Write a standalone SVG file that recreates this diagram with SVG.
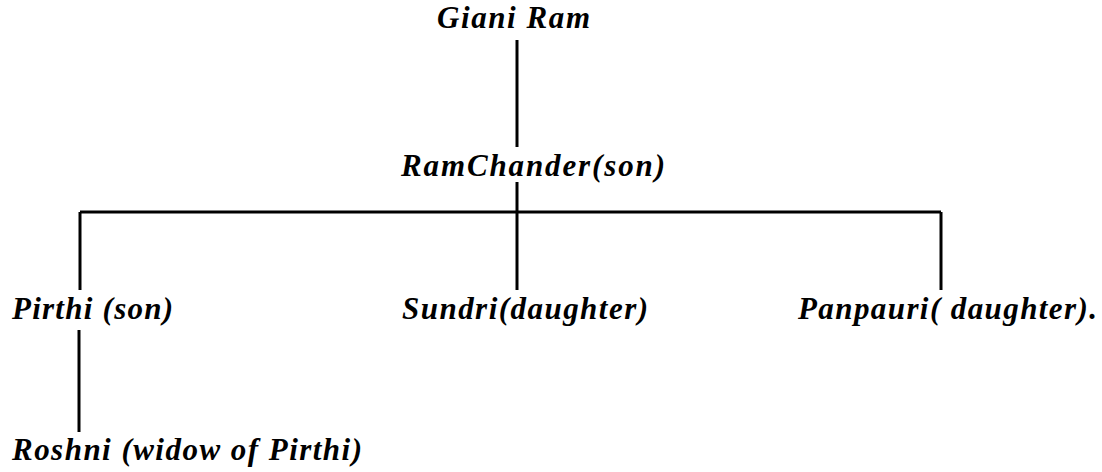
<svg xmlns="http://www.w3.org/2000/svg" width="1102" height="472" viewBox="0 0 1102 472">
<style>
.t{font-family:"Liberation Serif","Times New Roman",serif;font-weight:bold;font-style:italic;font-size:31px;fill:#000}
.c line{stroke:#000;stroke-width:3}
</style>
<rect width="1102" height="472" fill="#fff"/>
<g class="c" id="connectors">
<line x1="517" y1="40" x2="517" y2="147"/>
<line x1="517" y1="182" x2="517" y2="290"/>
<line x1="80" y1="212" x2="941" y2="212"/>
<line x1="80" y1="212" x2="80" y2="290"/>
<line x1="941" y1="212" x2="941" y2="290"/>
<line x1="79" y1="330" x2="79" y2="432"/>
</g>
<g id="giani"><text class="t" x="437" y="28" textLength="153" lengthAdjust="spacing">Giani Ram</text></g>
<g id="ramchander"><text class="t" x="401" y="176" textLength="264" lengthAdjust="spacing">RamChander(son)</text></g>
<g id="pirthi"><text class="t" x="12" y="319" textLength="161" lengthAdjust="spacing">Pirthi (son)</text></g>
<g id="sundri"><text class="t" x="402" y="319" textLength="246" lengthAdjust="spacing">Sundri(daughter)</text></g>
<g id="panpauri"><text class="t" x="798" y="319" textLength="299" lengthAdjust="spacing">Panpauri( daughter).</text></g>
<g id="roshni"><text class="t" x="12" y="460" textLength="350" lengthAdjust="spacing">Roshni (widow of Pirthi)</text></g>
</svg>
